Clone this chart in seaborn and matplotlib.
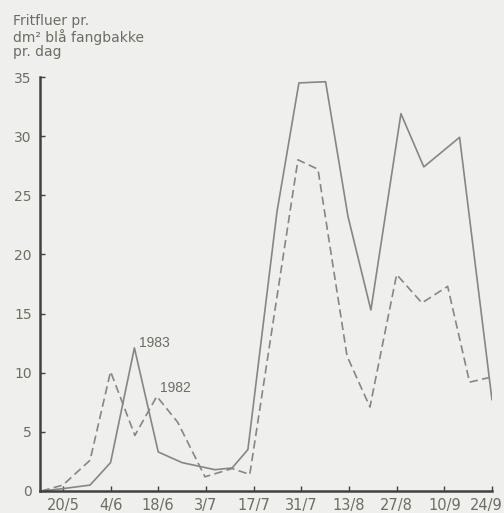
import matplotlib
matplotlib.use("Agg")
import matplotlib.pyplot as plt
import matplotlib.transforms as mtransforms
import seaborn as sns
import pandas as pd

# Fortnightly date labels along the season
tick_labels = ["20/5", "4/6", "18/6", "3/7", "17/7", "31/7", "13/8", "27/8", "10/9", "24/9"]
tick_pos = list(range(len(tick_labels)))

# Frit flies per dm² blue trap per day, positions in fortnight units from 20/5
t_1983 = [-0.45, 0.0, 0.57, 1.0, 1.5, 2.0, 2.5, 3.19, 3.55, 3.88, 4.49, 4.95, 5.51, 5.98, 6.46, 7.09, 7.57, 8.32, 9.0]
v_1983 = [0.0, 0.2, 0.5, 2.4, 12.1, 3.3, 2.4, 1.8, 1.95, 3.5, 23.6, 34.5, 34.6, 23.2, 15.3, 31.9, 27.4, 29.9, 7.7]

t_1982 = [-0.45, 0.0, 0.57, 1.0, 1.51, 1.97, 2.41, 2.98, 3.55, 3.92, 4.93, 5.35, 5.96, 6.44, 7.0, 7.53, 8.07, 8.53, 8.95]
v_1982 = [0.0, 0.5, 2.6, 10.1, 4.7, 8.0, 5.8, 1.2, 1.9, 1.4, 28.0, 27.2, 11.4, 7.1, 18.3, 15.9, 17.3, 9.2, 9.6]

y_ticks = [0, 5, 10, 15, 20, 25, 30, 35]

bg = "#efefed"
text_col = "#6a6e62"
axis_col = "#3f443a"
line_col = "#858783"

sns.set_theme(style="ticks")
plt.rcParams["font.family"] = ["DejaVu Sans"]

df = pd.concat([
    pd.DataFrame({"t": t_1983, "v": v_1983, "year": "1983"}),
    pd.DataFrame({"t": t_1982, "v": v_1982, "year": "1982"}),
], ignore_index=True)

fig = plt.figure(figsize=(5.04, 5.13), dpi=100, facecolor=bg)
ax = fig.add_axes([40 / 504, 22 / 513, 452 / 504, 414 / 513])
ax.set_facecolor(bg)

sns.lineplot(data=df, x="t", y="v", style="year", style_order=["1983", "1982"],
             dashes={"1983": "", "1982": (5, 2.6)}, color=line_col,
             linewidth=1.2, sort=False, estimator=None, legend=False, ax=ax)

ax.set_xlim(-0.48, 9.0)
ax.set_ylim(0, 35)
ax.set_xticks(tick_pos)
ax.set_xticklabels(tick_labels)
ax.set_yticks(y_ticks)
ax.set_xlabel("")
ax.set_ylabel("")

for side in ("top", "right"):
    ax.spines[side].set_visible(False)
for side in ("left", "bottom"):
    ax.spines[side].set_color(axis_col)
    ax.spines[side].set_linewidth(1.8)

ax.tick_params(axis="both", direction="in", length=3.5, width=1.0, color=axis_col,
               labelcolor=text_col)
ax.tick_params(axis="x", pad=5, labelsize=10.5)
ax.tick_params(axis="y", pad=6, labelsize=10)

# Nudge the last date label inward so it stays on the page
last = ax.get_xticklabels()[-1]
last.set_transform(last.get_transform() +
                   mtransforms.ScaledTranslation(-6 / 100, 0, fig.dpi_scale_trans))

# Series labels beside their early peaks
ax.text(1.6, 12.5, "1983", color=text_col, fontsize=10, va="center", ha="left",
        family="Liberation Sans")
ax.text(2.03, 8.7, "1982", color=text_col, fontsize=10, va="center", ha="left",
        family="Liberation Sans")

fig.text(13 / 504, 1 - 14 / 513, "Fritfluer pr.\ndm² blå fangbakke\npr. dag",
         color=text_col, fontsize=10, ha="left", va="top", linespacing=1.05)

fig.savefig("out.png", dpi=100, facecolor=bg)
